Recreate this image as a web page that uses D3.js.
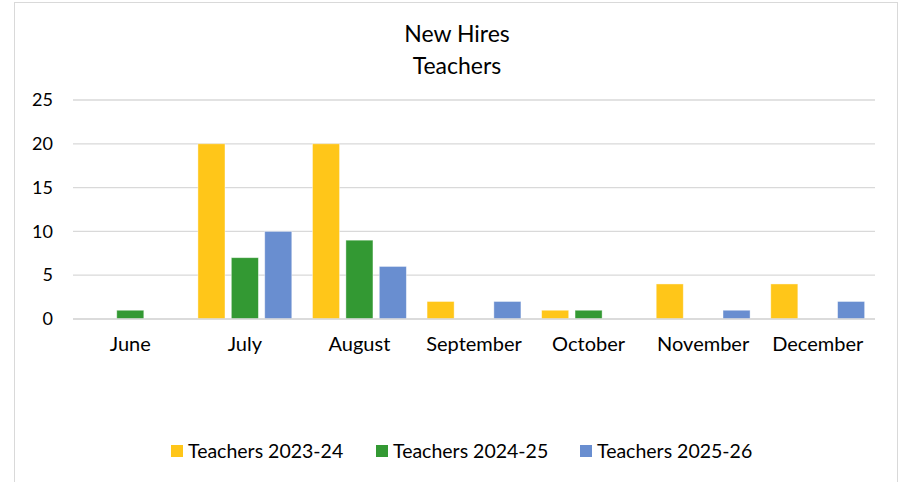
<!DOCTYPE html>
<html>
<head>
<meta charset="utf-8">
<script src="https://cdn.jsdelivr.net/npm/d3@7"></script>
<style>
    body { margin: 0; background: #fff; }
    #chart { width: 901px; height: 482px; }
    text { font-family: Lato, "Open Sans", sans-serif; fill: #000; }
</style>
</head>
<body>
<div id="chart"></div>
<script>
// data
const months = ["June", "July", "August", "September", "October", "November", "December"];
const seriesNames = ["Teachers 2023-24", "Teachers 2024-25", "Teachers 2025-26"];
const teachers2324 = [0, 20, 20, 2, 1, 4, 4];
const teachers2425 = [1, 7, 9, 0, 1, 0, 0];
const teachers2526 = [0, 10, 6, 2, 0, 1, 2];
const yTicks = [0, 5, 10, 15, 20, 25];
const colors = ["#ffc619", "#339933", "#698ed0"];

const allSeries = [teachers2324, teachers2425, teachers2526];

let margin = {top: 100, left: 73, right: 26, bottom: 163};
let width = 901, height = 482;
let innerW = width - margin.left - margin.right;
let innerH = height - margin.top - margin.bottom;

let svg = d3.select("#chart").append("svg")
    .attr("width", width)
    .attr("height", height);

// chart border
svg.append("rect")
    .attr("x", 14.5).attr("y", 2.5)
    .attr("width", 883).attr("height", 490)
    .attr("fill", "none")
    .attr("stroke", "#d9d9d9");

// title
svg.append("text")
    .attr("x", 457).attr("y", 42)
    .attr("text-anchor", "middle")
    .style("font-size", "23px")
    .text("New Hires");
svg.append("text")
    .attr("x", 457).attr("y", 74)
    .attr("text-anchor", "middle")
    .style("font-size", "23px")
    .text("Teachers");

let g = svg.append("g")
    .attr("transform", `translate(${margin.left}, ${margin.top})`);

let x = d3.scaleBand()
    .domain(months)
    .range([0, innerW]);

let x1 = d3.scaleBand()
    .domain(d3.range(allSeries.length))
    .range([0, x.bandwidth()])
    .paddingInner(0.19)
    .paddingOuter(0.31);

let y = d3.scaleLinear()
    .domain([0, 25])
    .range([innerH, 0]);

// gridlines
g.selectAll(".grid")
    .data(yTicks)
    .enter().append("line")
    .attr("x1", 0).attr("x2", innerW)
    .attr("y1", d => y(d)).attr("y2", d => y(d))
    .attr("stroke", "#d9d9d9")
    .attr("stroke-width", 1.3);

// y axis labels
let yAxis = d3.axisLeft(y).tickValues(yTicks).tickSize(0).tickPadding(20);
g.append("g")
    .attr("class", "y-axis")
    .call(yAxis)
    .call(a => a.select(".domain").remove())
    .selectAll("text")
    .style("font-size", "18px");

// x axis labels
let xAxis = d3.axisBottom(x).tickSize(0).tickPadding(18);
g.append("g")
    .attr("class", "x-axis")
    .attr("transform", `translate(0, ${innerH})`)
    .call(xAxis)
    .call(a => a.select(".domain").remove())
    .selectAll("text")
    .style("font-size", "20px");

// bars
allSeries.forEach((vals, si) => {
    g.selectAll(".bar-" + si)
        .data(vals)
        .enter().append("rect")
        .attr("class", "bar-" + si)
        .attr("x", (d, i) => x(months[i]) + x1(si))
        .attr("width", x1.bandwidth())
        .attr("y", d => y(d))
        .attr("height", d => innerH - y(d))
        .attr("fill", colors[si])
        .attr("stroke", "#fff")
        .attr("stroke-opacity", 0.5)
        .attr("stroke-width", 0.8);
});

// baseline
g.append("line")
    .attr("x1", 0).attr("x2", innerW)
    .attr("y1", innerH).attr("y2", innerH)
    .attr("stroke", "#d9d9d9")
    .attr("stroke-width", 1.5);

// legend
const legendX = [171, 376, 580];
let legend = svg.append("g").attr("class", "legend");
seriesNames.forEach((name, i) => {
    legend.append("rect")
        .attr("x", legendX[i]).attr("y", 445)
        .attr("width", 12).attr("height", 12)
        .attr("fill", colors[i]);
    legend.append("text")
        .attr("x", legendX[i] + 17).attr("y", 458)
        .style("font-size", "19.5px")
        .text(name);
});
</script>
</body>
</html>
